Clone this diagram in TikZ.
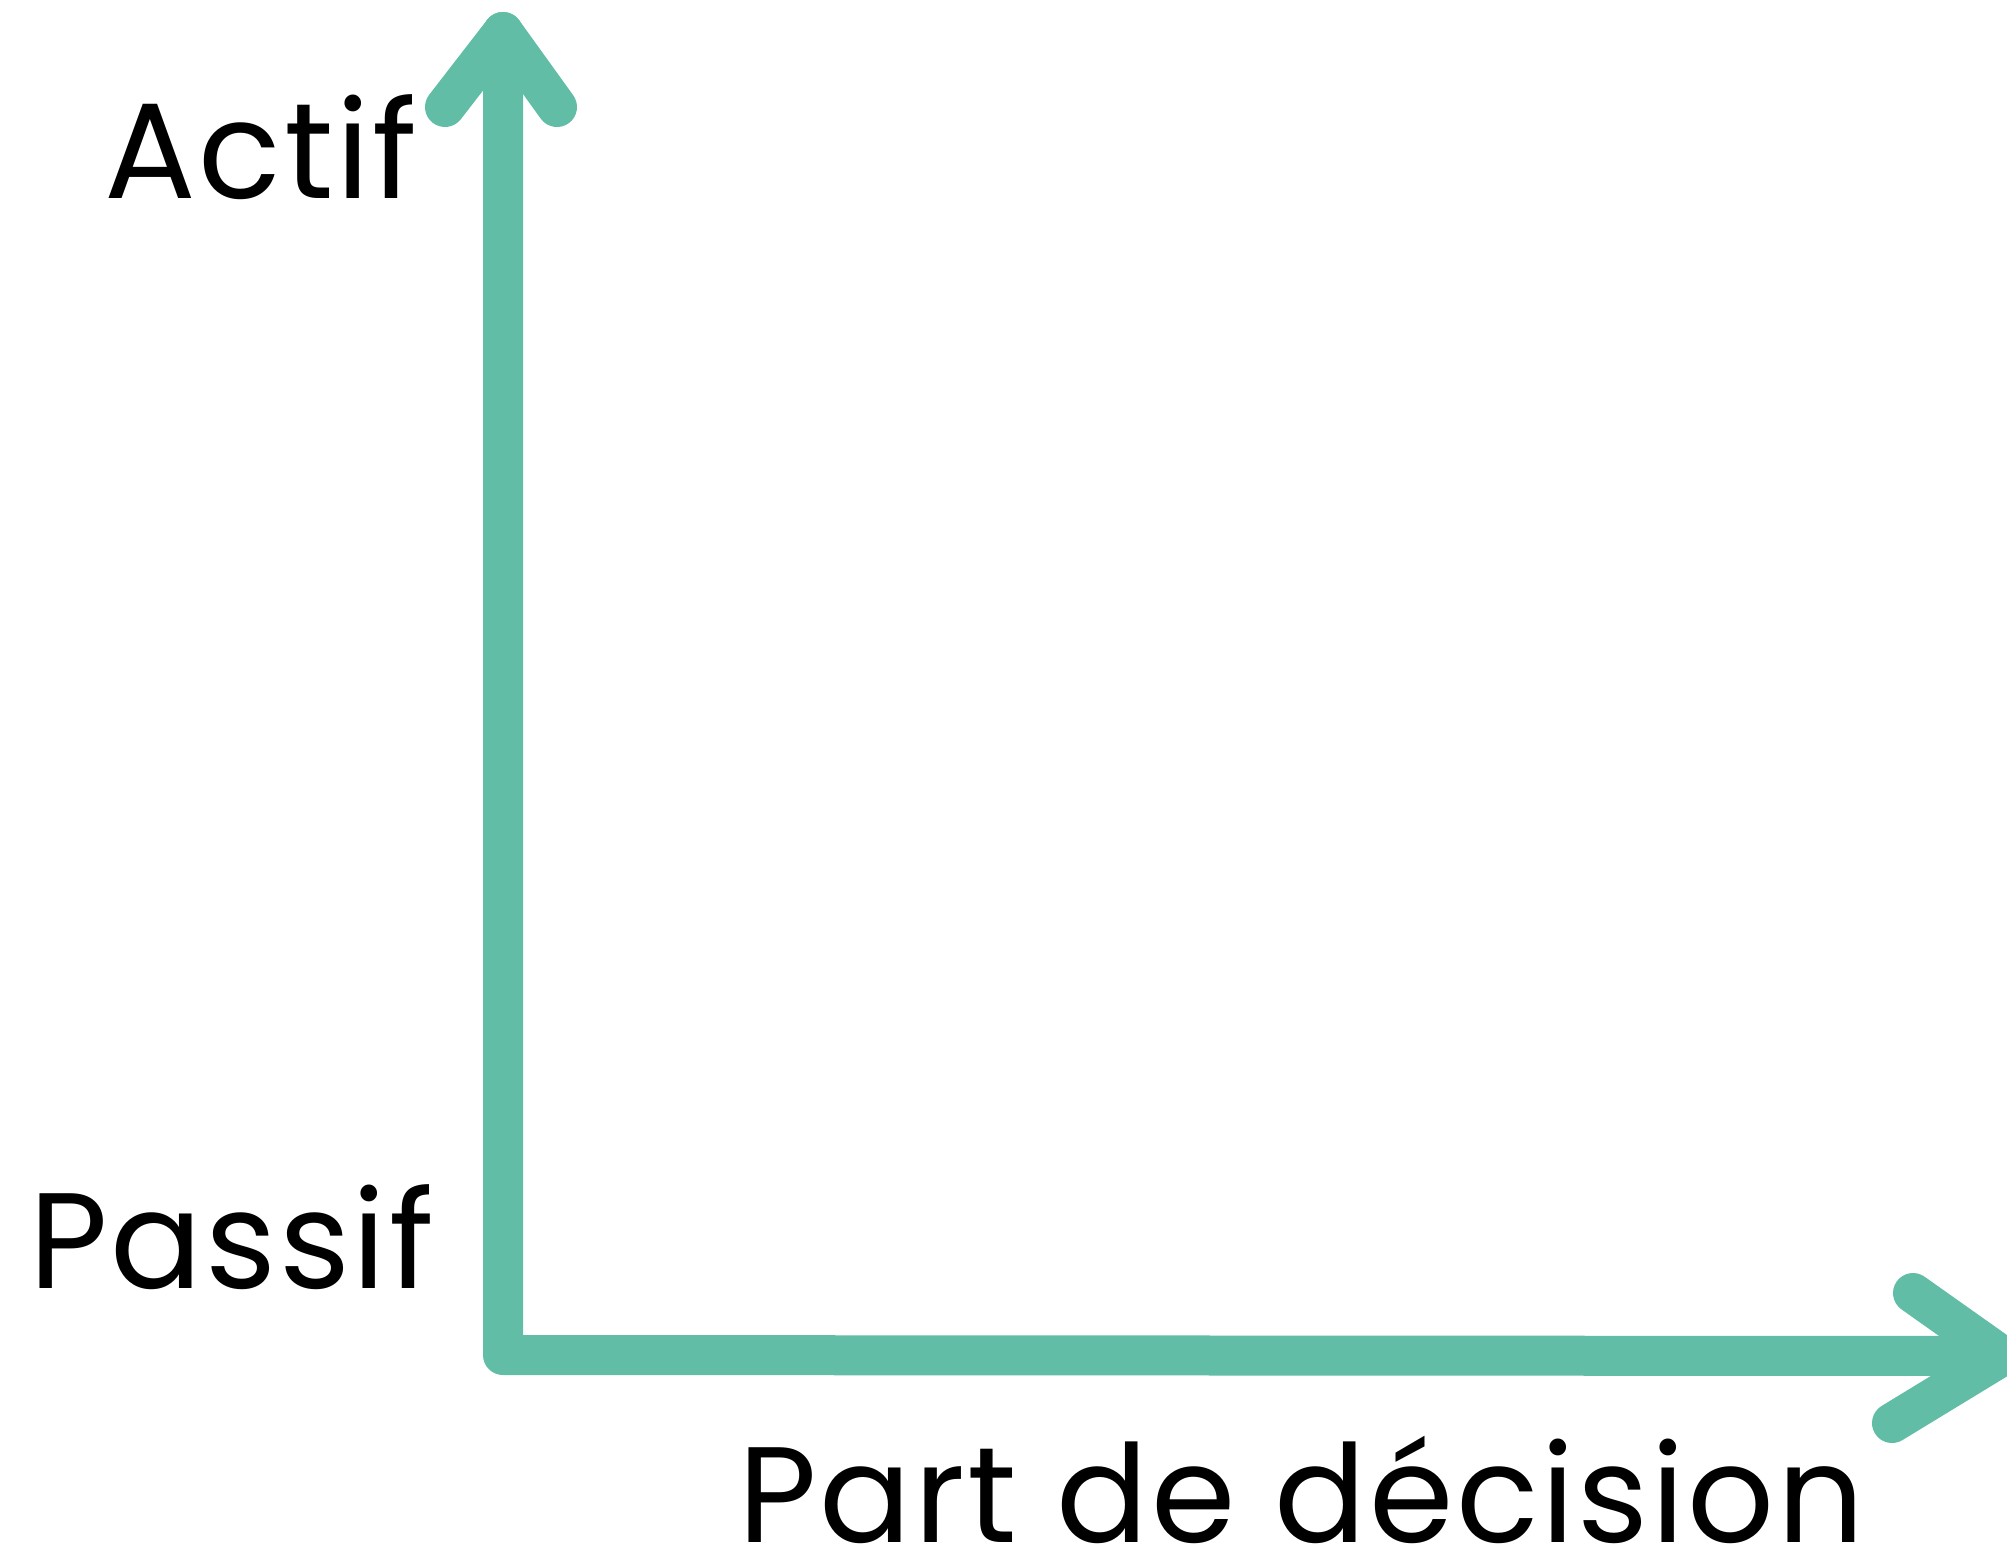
\documentclass[tikz,border=0pt]{standalone}
\usepackage{fontspec}
\setmainfont[LetterSpace=2]{Poppins}
\definecolor{axegreen}{RGB}{97,189,166}
\tikzset{
  axe/.style={draw=axegreen, line width=20pt, line cap=round, line join=round},
  lbl/.style={anchor=base west, inner sep=0pt, font=\fontsize{68}{68}\selectfont}
}
\begin{document}
\begin{tikzpicture}[x=0.5pt, y=-0.5pt]
\useasboundingbox (0,0) rectangle (2007,1555);
\coordinate (origine) at (503,1355);
\coordinate (haut) at (503,32);
\coordinate (droite) at (2002,1356);
\coordinate (haut-g) at (445,107);
\coordinate (haut-d) at (557,107);
\coordinate (droite-h) at (1913,1293);
\coordinate (droite-b) at (1892,1423);
% axes
\draw [axe] (haut) -- (origine) -- (droite);
\draw [axe] (haut-g) -- (haut) -- (haut-d);
\draw [axe] (droite-h) -- (droite) -- (droite-b);
% labels
\node [lbl] (actif) at (104,198) {Actif};
\node [lbl] (passif) at (29,1288) {Passif};
\node [lbl] (decision) at (738,1542) {Part de décision};
\end{tikzpicture}
\end{document}
